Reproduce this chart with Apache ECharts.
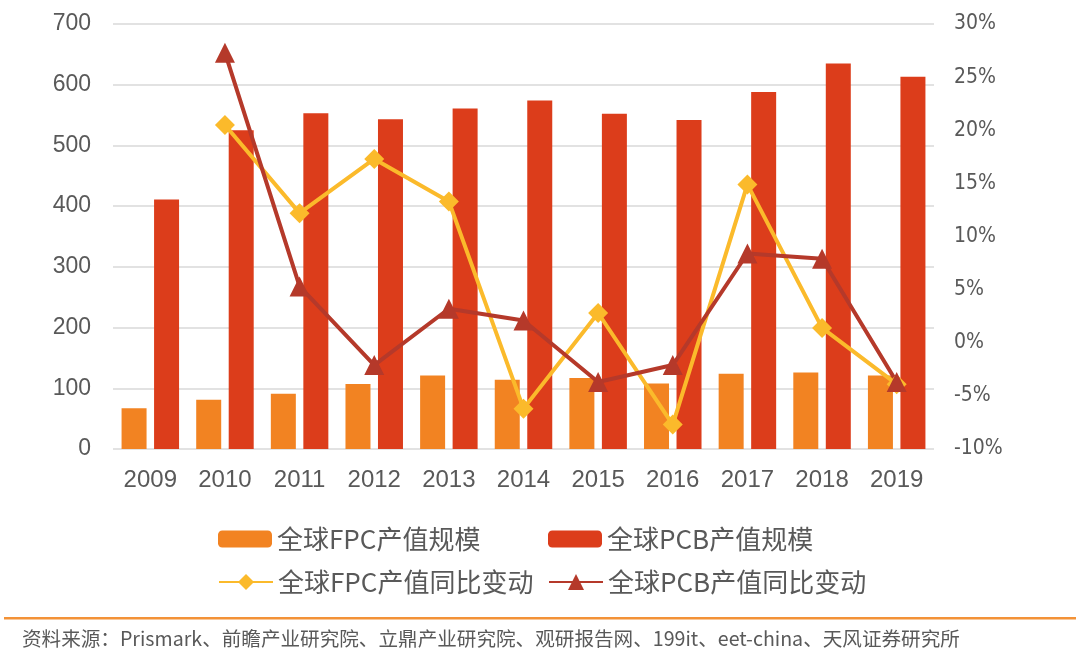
<!DOCTYPE html>
<html>
<head>
<meta charset="utf-8">
<script src="https://cdn.jsdelivr.net/npm/echarts@6/dist/echarts.min.js"></script>
<style>
	html, body {margin:0; padding:0; background:#fff;}
	#main {width:1080px; height:662px;}
</style>
</head>
<body>
<div id="main"></div>
<script>
//年份
var years = ['2009','2010','2011','2012','2013','2014','2015','2016','2017','2018','2019'];
//产值规模（亿美元）
var fpc_value = [67, 81, 91, 107, 121, 114, 117, 108, 124, 126, 121];
var pcb_value = [411, 525, 553, 543, 561, 574, 552, 542, 588, 635, 613];
//同比变动（%）
var fpc_yoy = [null, 20.5, 12.2, 17.3, 13.3, -6.2, 2.8, -7.7, 14.9, 1.4, -3.9];
var pcb_yoy = [null, 27.3, 5.3, -2.1, 3.2, 2.1, -3.7, -2.1, 8.4, 7.9, -3.7];
//系列名称
var names = ['全球FPC产值规模', '全球PCB产值规模', '全球FPC产值同比变动', '全球PCB产值同比变动'];
var source_text = '资料来源：Prismark、前瞻产业研究院、立鼎产业研究院、观研报告网、199it、eet-china、天风证券研究所';

var chart = echarts.init(document.getElementById('main'));

var legendText = {
	fontFamily: 'Noto Sans CJK SC',
	fontSize: 26,
	color: '#595959'
};

chart.setOption({
	animation: false,
	grid: {
		left: 113,
		right: 146,
		top: 24,
		bottom: 213
	},
	legend: [
		{data: [names[0]], left: 213, top: 521, itemWidth: 54, itemHeight: 17, itemGap: 0, textStyle: legendText},
		{data: [names[1]], left: 543, top: 521, itemWidth: 54, itemHeight: 17, itemGap: 0, textStyle: legendText},
		{data: [names[2]], left: 213, top: 564, itemWidth: 54, itemHeight: 20, itemGap: 0, textStyle: legendText},
		{data: [names[3]], left: 543, top: 564, itemWidth: 54, itemHeight: 20, itemGap: 0, textStyle: legendText}
	],
	xAxis: {
		type: 'category',
		data: years,
		axisLine: {show: false},
		axisTick: {show: false},
		axisLabel: {
			margin: 19,
			fontFamily: 'Liberation Sans',
			fontSize: 24,
			color: '#595959'
		}
	},
	yAxis: [
		{
			type: 'value',
			min: 0,
			max: 700,
			interval: 100,
			axisLine: {show: false},
			axisTick: {show: false},
			axisLabel: {
				margin: 22,
				fontFamily: 'Liberation Sans',
				fontSize: 23,
				color: '#595959'
			},
			splitLine: {lineStyle: {color: '#D9D9D9', width: 1.5}}
		},
		{
			type: 'value',
			min: -10,
			max: 30,
			interval: 5,
			axisLine: {show: false},
			axisTick: {show: false},
			axisLabel: {
				margin: 20,
				formatter: '{value}%',
				fontFamily: '"DejaVu Sans Condensed", "Liberation Sans", sans-serif',
				fontSize: 21,
				color: '#595959'
			},
			splitLine: {show: false}
		}
	],
	series: [
		{
			name: names[0],
			type: 'bar',
			barWidth: 25,
			barGap: '30%',
			itemStyle: {color: '#F28322'},
			data: fpc_value
		},
		{
			name: names[1],
			type: 'bar',
			barWidth: 25,
			barGap: '30%',
			itemStyle: {color: '#DC3D1B'},
			data: pcb_value
		},
		{
			name: names[2],
			type: 'line',
			yAxisIndex: 1,
			symbol: 'diamond',
			symbolSize: 20,
			lineStyle: {color: '#FBBA2B', width: 4},
			itemStyle: {color: '#FBBA2B'},
			data: fpc_yoy
		},
		{
			name: names[3],
			type: 'line',
			yAxisIndex: 1,
			symbol: 'triangle',
			symbolSize: 20,
			lineStyle: {color: '#B5392A', width: 4},
			itemStyle: {color: '#B5392A'},
			data: pcb_yoy
		}
	],
	graphic: [
		{
			type: 'rect',
			shape: {x: 4, y: 617, width: 1072, height: 2.5},
			style: {fill: '#F39237'}
		},
		{
			type: 'text',
			left: 22,
			top: 629,
			style: {
				text: source_text,
				fontFamily: 'Noto Sans CJK SC',
				fontSize: 19.6,
				fill: '#595959'
			}
		}
	]
});
</script>
</body>
</html>
